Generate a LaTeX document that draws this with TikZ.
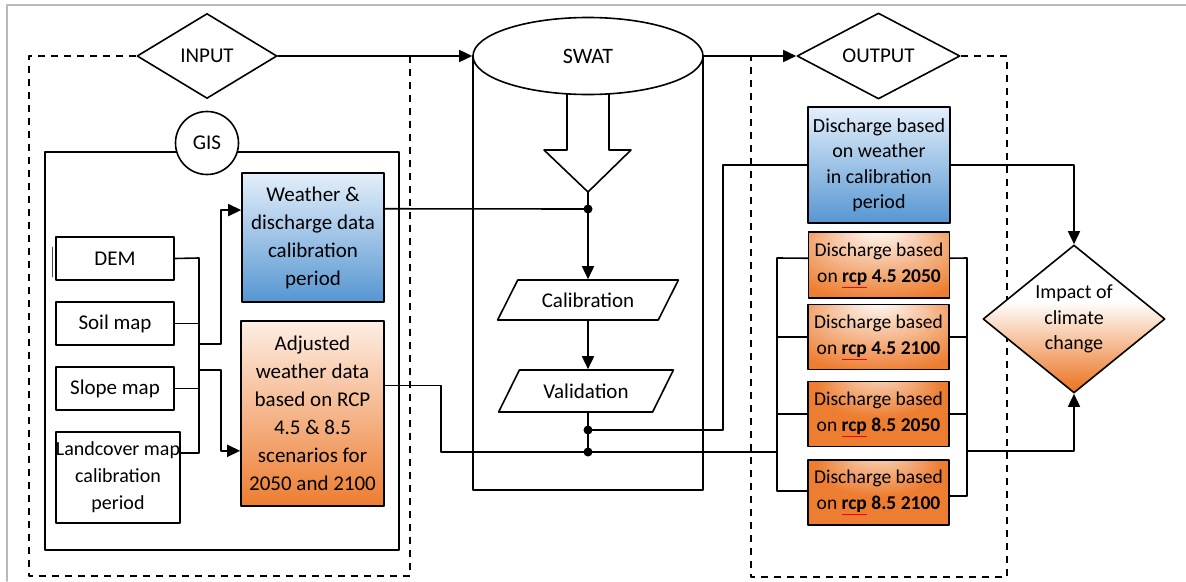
\documentclass[tikz,border=0pt]{standalone}
\usepackage{fontspec}
\setmainfont{Carlito}
\usetikzlibrary{shapes.geometric, arrows.meta, calc}

\definecolor{officeBlue}{RGB}{86,150,210}
\definecolor{paleBlue}{RGB}{228,239,250}
\definecolor{officeOrange}{RGB}{237,125,49}
\definecolor{deepOrange}{RGB}{197,90,17}
\definecolor{paleOrange}{RGB}{253,238,228}
\definecolor{frameGray}{RGB}{185,185,185}

\pgfdeclareradialshading{glowSoft}{\pgfpoint{0bp}{30bp}}{color(0bp)=(white); color(14bp)=(white!60!officeOrange); color(36bp)=(officeOrange); color(50bp)=(officeOrange)}
\pgfdeclareradialshading{glowHard}{\pgfpoint{0bp}{34bp}}{color(0bp)=(white); color(6bp)=(white!55!officeOrange); color(22bp)=(officeOrange); color(50bp)=(officeOrange)}
\pgfdeclareverticalshading{impactShade}{100bp}{color(0bp)=(deepOrange); color(28bp)=(officeOrange); color(56bp)=(white); color(72bp)=(white); color(100bp)=(officeBlue)}

\newcommand\rcpword{\textcolor{red}{\underline{\textcolor{black}{rcp}}}}

\tikzset{base/.style = {draw, line width=1.6pt, align=center, inner sep=0pt,
						font=\fontsize{21}{28}\selectfont}}
\tikzset{box/.style = {base, rectangle, fill=white}}
\tikzset{blueBox/.style = {base, rectangle, top color=paleBlue, bottom color=officeBlue}}
\tikzset{peachBox/.style = {base, rectangle, top color=paleOrange, bottom color=officeOrange}}
\tikzset{resultBox/.style = {base, rectangle, minimum width=141pt, minimum height=65pt,
						font=\fontsize{19.5}{26}\selectfont}}
\tikzset{decision/.style = {base, diamond, fill=white}}
\tikzset{slanted/.style = {base, trapezium, trapezium left angle=48, trapezium right angle=132,
						trapezium stretches=true, fill=white}}
\tikzset{wire/.style = {line width=1.6pt}}
\tikzset{flow/.style = {line width=1.6pt, -{Triangle[length=13pt, width=12pt]}}}
\tikzset{dashline/.style = {line width=1.6pt, dash pattern=on 7pt off 6pt, line cap=butt}}
\tikzset{frame/.style = {line width=1.5pt, frameGray}}

\begin{document}
\begin{tikzpicture}[x=1pt, y=-1pt, line cap=round, line join=round]
		\useasboundingbox (0,0) rectangle (1186,581);
		% Page frame
		\draw[frame] (7,581) -- (7,5) -- (1186,5);
		
		% Coordinates
		\coordinate (bt) at (199,258);
		\coordinate (bb) at (199,453);
		\coordinate (wa) at (199,344);
		\coordinate (aa) at (199,370);
		\coordinate (tip) at (588,192);
		\coordinate (j1) at (588,209);
		\coordinate (j2) at (588,430);
		\coordinate (j3) at (588,452);
		\coordinate (lbT) at (777,258);
		\coordinate (lbB) at (777,491);
		\coordinate (rbT) at (967,258);
		\coordinate (rbB) at (967,496);
		\coordinate (rbM) at (967,451);
		
		% Input side
		\node[decision, minimum width=140pt, minimum height=85pt] (input) at (207,56) {INPUT};
		\draw[dashline] (input.west) -- (29,56) -- (29,576) -- (410,576) -- (410,56);
		\draw[wire] (45,152) rectangle (399,550);
		\node[base, circle, fill=white, minimum size=63pt] (gis) at (207,143) {GIS};
		
		\node[box, minimum width=118pt, minimum height=43pt] (dem) at (115,258.5) {DEM};
		\node[box, minimum width=118pt, minimum height=43pt] (soil) at (115,323.5) {Soil map};
		\node[box, minimum width=118pt, minimum height=43pt] (slope) at (115,388.5) {Slope map};
		\node[box, minimum width=124pt, minimum height=91pt, font=\fontsize{20}{27}\selectfont] (land) at (118,477.5)
			{Landcover map\\calibration\\period};
		\draw[line width=0.8pt, black!70] (52,247) -- (52,277);
		
		\node[blueBox, minimum width=142pt, minimum height=129pt] (weather) at (313,237.5)
			{Weather \&\\discharge data\\calibration\\period};
		\node[peachBox, minimum width=143pt, minimum height=185pt] (adjusted) at (312.5,413.5)
			{Adjusted\\weather data\\based on RCP\\4.5 \& 8.5\\scenarios for\\2050 and 2100};
		
		% SWAT
		\draw[wire] (473,56) -- (473,490) -- (703,490) -- (703,56);
		\node[base, ellipse, fill=white, minimum width=230pt, minimum height=77pt, font=\fontsize{22}{28}\selectfont] (swat) at (588,56) {SWAT};
		\draw[wire] (567,94) -- (567,150) -- (544,150) -- (tip) -- (631,150) -- (609,150) -- (609,94);
		\node[slanted, minimum width=181pt, minimum height=40pt] (calib) at (588,300) {Calibration};
		\node[slanted, minimum width=175pt, minimum height=42pt] (valid) at (586,391) {Validation};
		
		% Output side
		\node[decision, minimum width=163pt, minimum height=86pt] (output) at (878.5,56) {OUTPUT};
		\draw[dashline] (output.east) -- (1007,56) -- (1007,577) -- (751,577) -- (751,56);
		\node[blueBox, minimum width=142pt, minimum height=116pt, font=\fontsize{20}{25.5}\selectfont] (dcal) at (879,165)
			{Discharge based\\on weather\\in calibration\\period};
		\node[resultBox, shading=glowSoft, minimum height=66pt] (r1) at (879,265)
			{Discharge based\\on \textbf{\rcpword\ 4.5 2050}};
		\node[resultBox, shading=glowSoft] (r2) at (878.5,337)
			{Discharge based\\on \textbf{\rcpword\ 4.5 2100}};
		\node[resultBox, shading=glowHard] (r3) at (878.5,414)
			{Discharge based\\on \textbf{\rcpword\ 8.5 2050}};
		\node[resultBox, shading=glowHard] (r4) at (878.5,492.5)
			{Discharge based\\on \textbf{\rcpword\ 8.5 2100}};
		\node[base, diamond, aspect=1.3, shading=impactShade, minimum width=182pt, minimum height=148pt,
			font=\fontsize{20}{25.5}\selectfont] (impact) at (1074,319) {Impact of\\climate\\change};
		
		% Connectors: GIS layers
		\draw[wire] (dem.east) -- (bt) -- (bb) -- (bb -| land.east);
		\draw[wire] (soil.east) -- (soil.east -| bt);
		\draw[wire] (slope.east) -- (slope.east -| bt);
		\draw[flow] (wa) -- ++(22,0) |- ($(weather.north west)!0.29!(weather.south west)$);
		\draw[flow] (aa) -- ++(22,0) |- ($(adjusted.north west)!0.7!(adjusted.south west)$);
		
		% Connectors: main flow
		\draw[flow] (input.east) -- (swat.west);
		\draw[flow] (swat.east) -- (output.west);
		\draw[wire] ($(weather.north east)!0.28!(weather.south east)$) -- (j1);
		\draw[flow] (tip) -- (j1) -- (calib.north);
		\draw[flow] (calib.south) -- (calib.south |- valid.north);
		\draw[wire] (calib.south |- valid.south) -- (j3);
		\draw[wire] (j2) -| ($(dcal.west)+(-84,0)$) -- (dcal.west);
		\draw[wire] ($(adjusted.north east)!0.35!(adjusted.south east)$) -- ++(56,0) |- (j3) -- (j3 -| lbT);
		\fill (j1) circle[radius=4.5];
		\fill (j2) circle[radius=4.5];
		\fill (j3) circle[radius=4.5];
		
		% Connectors: results
		\draw[wire] ($(r1.north west)!0.4!(r1.south west)$) -- (lbT) -- (lbB) -- (lbB -| r4.west);
		\draw[wire] (r2.west) -- (r2.west -| lbT);
		\draw[wire] (r3.west) -- (r3.west -| lbT);
		\draw[wire] ($(r1.north east)!0.4!(r1.south east)$) -- (rbT) -- (rbB) -- (rbB -| r4.east);
		\draw[wire] (r2.east) -- (r2.east -| rbT);
		\draw[wire] (r3.east) -- (r3.east -| rbT);
		\draw[flow] (rbM) -| (impact.south);
		\draw[flow] (dcal.east) -| (impact.north);
	\end{tikzpicture}
\end{document}
